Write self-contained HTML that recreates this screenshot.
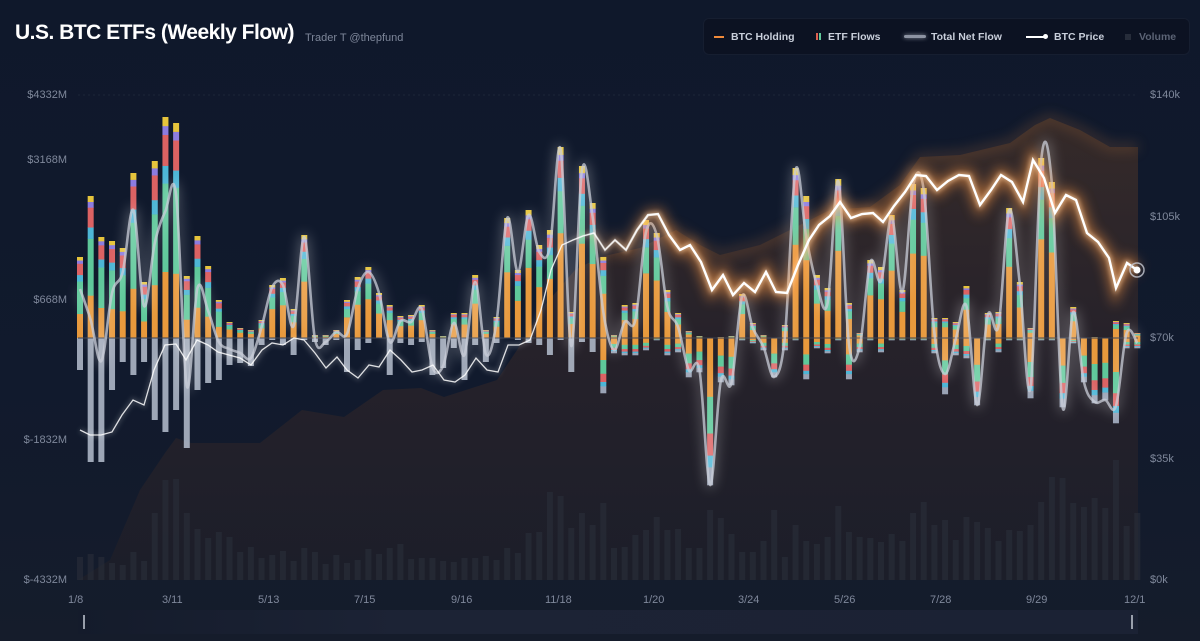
<!DOCTYPE html>
<html><head><meta charset="utf-8">
<style>
html,body{margin:0;padding:0;background:#111a2d;}
body{width:1200px;height:641px;overflow:hidden;position:relative;font-family:"Liberation Sans",sans-serif;}
#bg{position:absolute;left:0;top:0;width:1200px;height:641px;background:linear-gradient(180deg,#0f182b 0%,#111a2d 60%,#151c2b 100%);}
.t{position:absolute;left:15px;top:21px;font-size:21px;font-weight:bold;color:#fff;letter-spacing:-0.5px;}
.st{position:absolute;left:305px;top:32px;font-size:11px;color:#7d8699;}
.lg{position:absolute;left:703px;top:18px;width:485px;height:35px;background:#0c1222;border-radius:6px;border:1px solid #161e30;}
.li{position:absolute;top:12px;font-size:10.5px;font-weight:bold;color:#c9cfdb;}
.al{position:absolute;font-size:11px;color:#7f889b;}
svg{position:absolute;left:0;top:0;}
</style></head><body>
<div id="bg"></div>
<svg id="s" width="1200" height="641"></svg>
<div class="t">U.S. BTC ETFs (Weekly Flow)</div>
<div class="st">Trader T @thepfund</div>
<div class="lg">
 <div style="position:absolute;left:10px;top:17px;width:10px;height:2px;background:#f08a3a"></div>
 <div class="li" style="left:27px">BTC Holding</div>
 <div style="position:absolute;left:112px;top:14px;width:1.5px;height:7px;background:#e0604f"></div>
 <div style="position:absolute;left:115px;top:14px;width:1.5px;height:7px;background:#5fc89a"></div>
 <div class="li" style="left:124px">ETF Flows</div>
 <div style="position:absolute;left:200px;top:16px;width:22px;height:3px;background:#8d93a2;border-radius:2px;box-shadow:0 0 4px #8d93a2"></div>
 <div class="li" style="left:227px">Total Net Flow</div>
 <div style="position:absolute;left:322px;top:17px;width:20px;height:2px;background:#fff"></div>
 <div style="position:absolute;left:339px;top:15px;width:5px;height:5px;border-radius:50%;background:#fff"></div>
 <div class="li" style="left:350px">BTC Price</div>
 <div style="position:absolute;left:421px;top:15px;width:6px;height:6px;background:#262c3a"></div>
 <div class="li" style="left:435px;color:#5b6375">Volume</div>
</div>
<div class="al" style="right:1133px;top:89px">$4332M</div>
<div class="al" style="right:1133px;top:154px">$3168M</div>
<div class="al" style="right:1133px;top:294px">$668M</div>
<div class="al" style="right:1133px;top:434px">$-1832M</div>
<div class="al" style="right:1133px;top:574px">$-4332M</div>
<div class="al" style="left:1150px;top:89px">$140k</div>
<div class="al" style="left:1150px;top:211px">$105k</div>
<div class="al" style="left:1150px;top:332px">$70k</div>
<div class="al" style="left:1150px;top:453px">$35k</div>
<div class="al" style="left:1150px;top:574px">$0k</div>
<div class="al" style="left:68px;top:594px">1/8</div>
<div class="al" style="left:162px;top:594px">3/11</div>
<div class="al" style="left:258px;top:594px">5/13</div>
<div class="al" style="left:354px;top:594px">7/15</div>
<div class="al" style="left:451px;top:594px">9/16</div>
<div class="al" style="left:545px;top:594px">11/18</div>
<div class="al" style="left:643px;top:594px">1/20</div>
<div class="al" style="left:738px;top:594px">3/24</div>
<div class="al" style="left:834px;top:594px">5/26</div>
<div class="al" style="left:930px;top:594px">7/28</div>
<div class="al" style="left:1026px;top:594px">9/29</div>
<div class="al" style="left:1124px;top:594px">12/1</div>
<script>
var NS="http://www.w3.org/2000/svg",S=document.getElementById('s');
function el(t,a,p){var e=document.createElementNS(NS,t);for(var k in a)e.setAttribute(k,a[k]);(p||S).appendChild(e);return e;}
var Z=338,X0=80,DX=10.68;
var top_=[257,196,237,241,248,173,282,161,117,123,276,236,266,300,322,328,330,320,285,278,309,235,335,335,330,300,277,267,293,305,316,315,305,330,336,313,313,275,330,317,218,270,210,245,230,147,312,166,203,257,335,305,303,220,233,290,313,331,336,338,337,336,294,323,335,338,325,168,196,275,288,179,303,333,260,267,215,290,184,188,318,318,322,286,338,313,312,208,282,328,158,182,338,307,338,337,338,321,323,333];
var bot=[370,462,462,390,362,375,362,420,432,410,448,390,383,380,365,363,366,345,340,345,355,340,342,345,340,372,350,343,338,375,343,345,342,375,368,348,380,345,362,343,338,340,343,345,355,340,372,342,352,393,353,355,355,350,340,355,352,377,372,485,382,385,340,343,350,377,350,340,379,348,353,340,379,352,340,352,340,340,340,340,353,394,355,358,405,340,352,340,340,398,340,340,407,343,382,403,400,423,348,348];
var vol=[557,554,557,563,565,552,561,513,480,479,513,529,538,532,537,552,547,558,555,551,561,548,552,564,555,563,560,549,554,548,544,559,558,558,561,562,558,558,556,560,548,553,533,532,492,496,528,513,525,503,548,547,535,530,517,530,529,548,548,510,518,534,552,552,541,510,557,525,541,544,537,506,532,537,538,542,534,541,513,502,525,520,540,517,522,528,541,530,531,525,502,477,478,503,507,498,508,460,526,513];
var price=[[80,430],[90,435],[101,435],[112,432],[122,415],[133,400],[144,405],[154,370],[165,345],[176,344],[186,360],[197,340],[208,345],[218,352],[229,355],[240,358],[251,365],[262,350],[272,343],[283,345],[294,338],[304,340],[315,353],[326,368],[337,357],[347,370],[358,378],[369,365],[379,367],[390,350],[401,360],[412,372],[422,370],[433,365],[444,380],[455,382],[465,375],[476,358],[487,370],[498,372],[508,345],[519,345],[530,340],[541,310],[551,270],[562,245],[573,240],[583,236],[594,233],[605,250],[615,240],[626,250],[637,230],[648,215],[658,214],[669,235],[680,250],[690,245],[701,262],[712,290],[723,275],[733,295],[744,283],[755,292],[766,272],[776,292],[787,293],[798,265],[809,240],[819,225],[830,216],[840,202],[851,218],[862,214],[873,213],[883,222],[894,206],[905,192],[916,175],[926,176],[937,190],[948,181],[959,175],[969,176],[980,205],[991,190],[1001,175],[1012,182],[1023,202],[1033,160],[1044,178],[1055,213],[1066,195],[1076,200],[1087,233],[1098,242],[1109,258],[1116,288],[1127,263],[1137,270]];
var hold=[[78,580],[110,560],[140,490],[165,453],[176,438],[191,443],[260,443],[302,410],[344,417],[383,390],[421,388],[444,397],[497,380],[517,350],[545,305],[575,270],[600,257],[640,248],[676,230],[700,245],[720,255],[760,245],[800,225],[830,210],[870,207],[900,185],[920,157],[960,155],[1010,143],[1035,125],[1050,118],[1080,130],[1110,147],[1138,147],[1138,580]];
var defs=el('defs',{});
defs.innerHTML='<filter id="g1" x="-10%" y="-20%" width="120%" height="140%"><feGaussianBlur stdDeviation="6"/></filter><filter id="g2" x="-10%" y="-20%" width="120%" height="140%"><feGaussianBlur stdDeviation="2.5"/></filter><linearGradient id="hg" x1="0" y1="0" x2="0" y2="1"><stop offset="0" stop-color="#372b29"/><stop offset="0.5" stop-color="#27222a"/><stop offset="1" stop-color="#1c1e29"/></linearGradient><linearGradient id="sb" x1="0" y1="0" x2="1" y2="0"><stop offset="0" stop-color="#141b2b"/><stop offset="0.3" stop-color="#1c2335"/><stop offset="1" stop-color="#1b2234"/></linearGradient><linearGradient id="mg" x1="0" y1="0" x2="1200" y2="0" gradientUnits="userSpaceOnUse"><stop offset="0.47" stop-color="#000"/><stop offset="0.56" stop-color="#fff"/></linearGradient><mask id="mk"><rect x="0" y="0" width="1200" height="641" fill="url(#mg)"/></mask>';
el('line',{x1:78,y1:95,x2:1138,y2:95,stroke:'#1c2538','stroke-width':1,'stroke-dasharray':'2 3'});
el('path',{d:'M'+hold.map(function(p){return p.join(',')}).join('L')+'Z',fill:'url(#hg)',opacity:0.95});
el('path',{d:'M'+hold.slice(0,-1).map(function(p){return p.join(',')}).join('L'),fill:'none',stroke:'#9a6238','stroke-width':8,opacity:0.35,filter:'url(#g1)',mask:'url(#mk)'});
for(var i=0;i<100;i++){var x=X0+i*DX;el('rect',{x:x-3,y:vol[i],width:6,height:580-vol[i],fill:'#2a2e3a',opacity:0.6});}
var pc=[['#e8993c',0.55],['#5ec89a',0.22],['#4db6d6',0.07],['#dc6263',0.09],['#8c7ce0',0.03],['#e6c43c',0.04]];
var pcE=[['#e8993c',0.3],['#5ec89a',0.4],['#4db6d6',0.08],['#dc6263',0.14],['#8c7ce0',0.04],['#e6c43c',0.04]];
var nc=[['#e8993c',0.4],['#5ec89a',0.25],['#dc6263',0.15],['#4db6d6',0.08],['#9aa3b5',0.12]];
for(var i=0;i<100;i++){var x=X0+i*DX-3;
 var h=Z-top_[i];if(h>0.5){var y=Z,c=i<14?pcE:pc;for(var j=0;j<c.length;j++){var hh=h*c[j][1];y-=hh;el('rect',{x:x,y:y,width:6,height:hh+0.3,fill:c[j][0]});}}
 var n=bot[i]-Z;if(n>0.5){if(i<49){el('rect',{x:x,y:Z,width:6,height:n,fill:'#b6bfcf',opacity:0.85});}else{var y=Z;for(var j=0;j<nc.length;j++){var hh=n*nc[j][1];el('rect',{x:x,y:y,width:6,height:hh+0.3,fill:nc[j][0]});y+=hh;}}}
}
el('line',{x1:78,y1:Z,x2:1138,y2:Z,stroke:'#3a4152','stroke-width':1});
var np=[];for(var i=0;i<100;i++)np.push([X0+i*DX,top_[i]+bot[i]-Z]);
function cr(p){var d='M'+p[0][0]+','+p[0][1];for(var i=0;i<p.length-1;i++){var a=p[i-1]||p[i],b=p[i],c=p[i+1],e=p[i+2]||c;d+='C'+(b[0]+(c[0]-a[0])/6)+','+(b[1]+(c[1]-a[1])/6)+' '+(c[0]-(e[0]-b[0])/6)+','+(c[1]-(e[1]-b[1])/6)+' '+c[0]+','+c[1];}return d;}
var nd=cr(np);
el('path',{d:nd,fill:'none',stroke:'#ffffff','stroke-width':7,opacity:0.25,filter:'url(#g1)'});
el('path',{d:nd,fill:'none',stroke:'#c9ced8','stroke-width':2.6,opacity:0.75});
var pd='M'+price.map(function(p){return p.join(',')}).join('L');
el('path',{d:pd,fill:'none',stroke:'#ffffff','stroke-width':5,opacity:0.15,filter:'url(#g2)'});
el('path',{d:pd,fill:'none',stroke:'#ff9a45','stroke-width':12,opacity:0.55,filter:'url(#g1)',mask:'url(#mk)'});
el('path',{d:pd,fill:'none',stroke:'#ffd0a0','stroke-width':4,opacity:0.6,filter:'url(#g2)',mask:'url(#mk)'});
el('path',{d:pd,fill:'none',stroke:'#ffffff','stroke-width':1.3,opacity:0.85});
el('path',{d:pd,fill:'none',stroke:'#ffffff','stroke-width':2.4,mask:'url(#mk)'});
el('circle',{cx:1137,cy:270,r:7,fill:'none',stroke:'#c8ccd6','stroke-width':1.5,opacity:0.8});
el('circle',{cx:1137,cy:270,r:3.5,fill:'#fff'});
el('rect',{x:78,y:610,width:1060,height:24,fill:'url(#sb)'});
el('line',{x1:84,y1:615,x2:84,y2:629,stroke:'#c5cad4','stroke-width':1.5});
el('line',{x1:1132,y1:615,x2:1132,y2:629,stroke:'#c5cad4','stroke-width':1.5});
</script>
</body></html>
